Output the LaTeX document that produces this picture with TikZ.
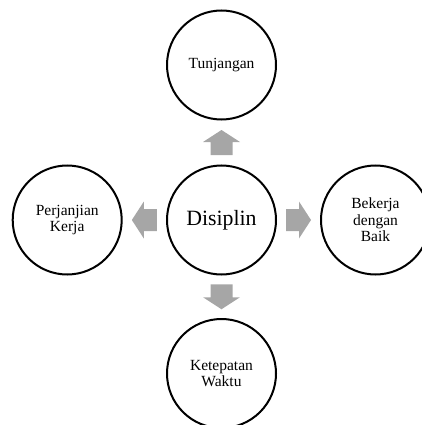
\documentclass[tikz,border=0pt]{standalone}
\usepackage{fontspec}
\setmainfont{Liberation Serif}
\usetikzlibrary{calc}
\begin{document}
\begin{tikzpicture}[x=1pt,y=-1pt,
  bubble/.style={circle,draw=black,line width=2pt,minimum size=109pt,inner sep=0pt,
     align=center,font=\fontsize{15.5}{16.5}\selectfont},
  bigbubble/.style={bubble,font=\fontsize{21.8}{24}\selectfont},
  blockarrow/.pic={\fill[arrowgray] (-12.5,-11) -- (0.5,-11) -- (0.5,-18.5) -- (12.5,0)
       -- (0.5,18.5) -- (0.5,11) -- (-12.5,11) -- cycle;}
]
\definecolor{arrowgray}{HTML}{A6A6A6}
\useasboundingbox (0,0) rectangle (422,425);
\clip (0,0) rectangle (422,425);
\node[bigbubble] (c) at (221.5,220) {Disiplin};
\node[bubble] (t) at (221.5,65) {Tunjangan};
\node[bubble] (b) at (221.5,373.5) {Ketepatan\\Waktu};
\node[bubble] (l) at (67.2,220) {Perjanjian\\Kerja};
\node[bubble] (r) at (375.5,220) {Bekerja\\dengan\\Baik};
\coordinate (mt) at ($(c.north)!0.5!(t.south)$);
\coordinate (mb) at ($(c.south)!0.5!(b.north)$);
\coordinate (ml) at ($(c.west)!0.5!(l.east)$);
\coordinate (mr) at ($(c.east)!0.5!(r.west)$);
\pic[rotate=90] at (mt) {blockarrow};
\pic[rotate=-90] at (mb) {blockarrow};
\pic[rotate=180] at (ml) {blockarrow};
\pic at (mr) {blockarrow};
\end{tikzpicture}
\end{document}
